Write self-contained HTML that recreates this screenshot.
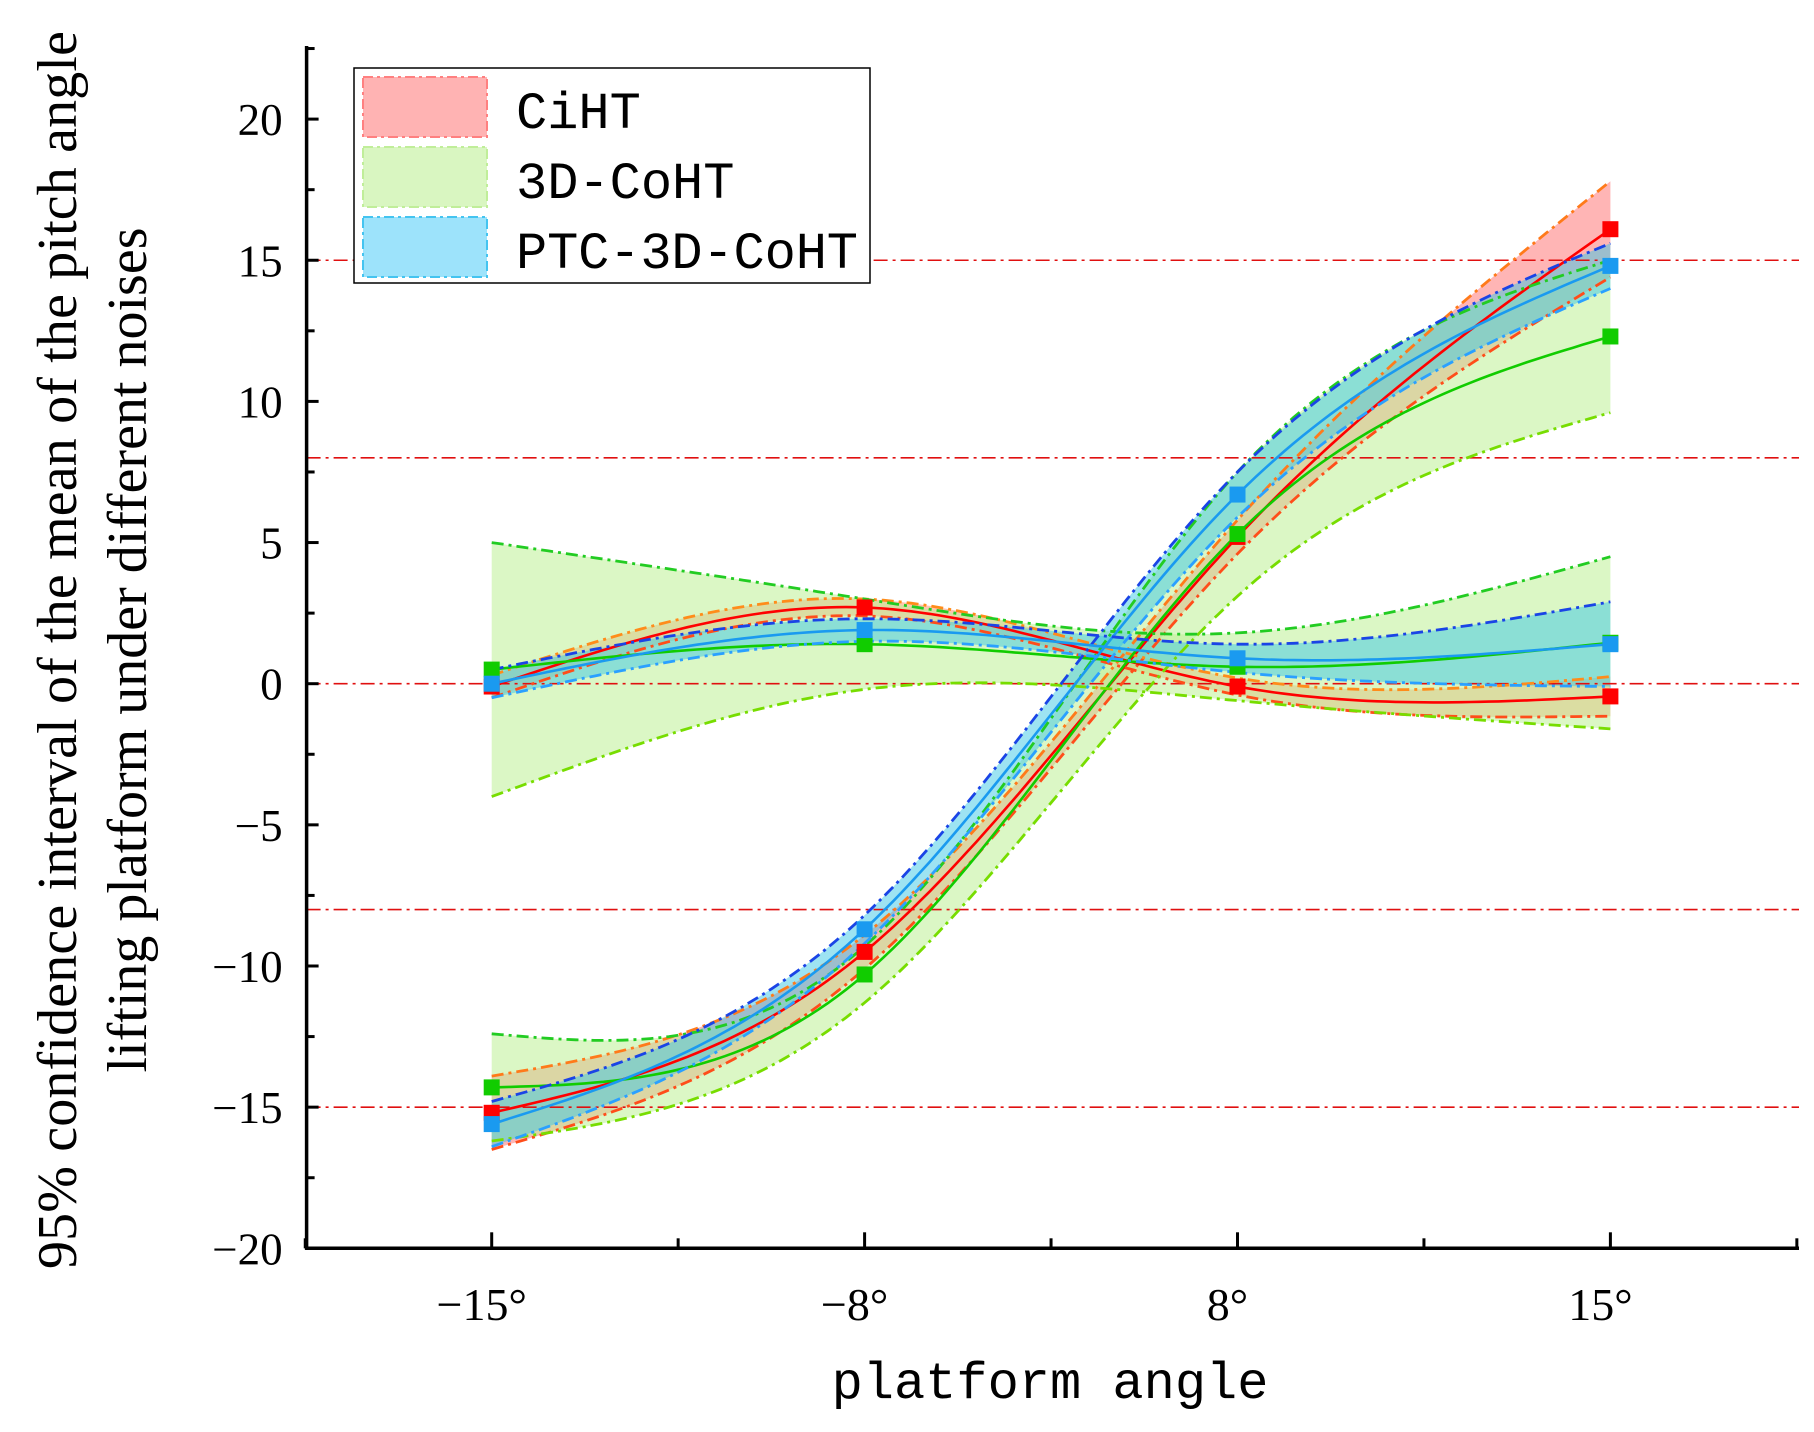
<!DOCTYPE html>
<html><head><meta charset="utf-8"><style>
body{margin:0;background:#fff}
svg{display:block}
text{font-family:"Liberation Serif",serif;fill:#000}
</style></head><body>
<svg id="chart" width="1814" height="1432" viewBox="0 0 1814 1432" xmlns="http://www.w3.org/2000/svg">
<g id="fills"></g><g id="lines"></g><g id="marks"></g><g id="axes"></g>
</svg>
<script>
const categories = ["\u221215°","\u22128°","8°","15°"];
const yTicks = [-20,-15,-10,-5,0,5,10,15,20];
const refLines = [15,8,0,-8,-15];
// rising curves
const ciUpMean = [-15.2,-9.5,5.2,16.1];
const ciUpHalf = [1.3,0.6,0.6,1.7];
const coUpMean = [-14.3,-10.3,5.3,12.3];
const coUpHalf = [1.9,1.0,2.2,2.7];
const ptUpMean = [-15.6,-8.7,6.7,14.8];
const ptUpHalf = [0.8,0.5,0.8,0.8];
// flat curves
const ciFlatMean = [-0.1,2.7,-0.1,-0.45];
const ciFlatHalf = [0.4,0.3,0.3,0.7];
const coFlatMean = [0.5,1.4,0.6,1.45];
const coFlatHalf = [4.5,1.6,1.2,3.05];
const ptFlatMean = [0.0,1.9,0.9,1.4];
const ptFlatHalf = [0.5,0.4,0.5,1.5];

const NS="http://www.w3.org/2000/svg";
const X0=491.7, DX=372.9, Y0=683.7, DY=28.23;
const xs=i=>X0+DX*i, ys=v=>Y0-v*DY;
const AX=306.6, AY=1248.3, AR=1799, AT=46;

function spline(vals){
  const n=vals.length, a=vals.slice(), c=new Array(n).fill(0);
  const al=[],l=[1],mu=[0],z=[0];
  for(let i=1;i<n-1;i++) al[i]=3*(a[i+1]-2*a[i]+a[i-1]);
  for(let i=1;i<n-1;i++){l[i]=4-mu[i-1];mu[i]=1/l[i];z[i]=(al[i]-z[i-1])/l[i];}
  const b=[],d=[];
  for(let j=n-2;j>=0;j--){c[j]=z[j]-mu[j]*c[j+1];b[j]=a[j+1]-a[j]-(c[j+1]+2*c[j])/3;d[j]=(c[j+1]-c[j])/3;}
  const pts=[];
  for(let j=0;j<n-1;j++) for(let k=0;k<(j==n-2?41:40);k++){const t=k/40;pts.push([xs(j+t),ys(a[j]+b[j]*t+c[j]*t*t+d[j]*t*t*t)]);}
  return pts;
}
function el(tag,attrs,parent){const e=document.createElementNS(NS,tag);for(const k in attrs)e.setAttribute(k,attrs[k]);parent.appendChild(e);return e;}
const gF=document.getElementById('fills'),gL=document.getElementById('lines'),gM=document.getElementById('marks'),gA=document.getElementById('axes');
const pstr=p=>p.map((q,i)=>(i?'L':'M')+q[0].toFixed(1)+' '+q[1].toFixed(1)).join(' ');

const series=[
 {n:'ciht-rise',m:ciUpMean,h:ciUpHalf,fill:'rgba(255,120,120,0.55)',up:'#ff7a1a',lo:'#ff4d1a',mc:'#ff0000'},
 {n:'ciht-flat',m:ciFlatMean,h:ciFlatHalf,fill:'rgba(255,140,100,0.5)',up:'#ff8c1a',lo:'#ff4d1a',mc:'#ff0000'},
 {n:'3dcoht-rise',m:coUpMean,h:coUpHalf,fill:'rgba(190,240,150,0.55)',up:'#22cc22',lo:'#77dd00',mc:'#11cc00'},
 {n:'3dcoht-flat',m:coFlatMean,h:coFlatHalf,fill:'rgba(190,240,150,0.55)',up:'#22cc22',lo:'#77dd00',mc:'#11cc00'},
 {n:'ptc-rise',m:ptUpMean,h:ptUpHalf,fill:'rgba(60,200,230,0.5)',up:'#1a44e6',lo:'#2aa0ff',mc:'#1a9af0'},
 {n:'ptc-flat',m:ptFlatMean,h:ptFlatHalf,fill:'rgba(60,200,230,0.5)',up:'#1a44e6',lo:'#2aa0ff',mc:'#1a9af0'}
];
refLines.forEach(v=>{
 const r=el('line',{x1:AX,x2:AR,y1:ys(v),y2:ys(v),stroke:'#e01010','stroke-width':1.6,'stroke-dasharray':'14 5 3 5'},gL);
 
 
});
series.forEach(s=>{
 const up=spline(s.m.map((v,i)=>v+s.h[i])), lo=spline(s.m.map((v,i)=>v-s.h[i])), mid=spline(s.m);
 const f=el('path',{d:pstr(up)+' '+pstr(lo.slice().reverse()).replace('M','L')+' Z',fill:s.fill,stroke:'none'},gF);
 
 
 const u=el('path',{d:pstr(up),fill:'none',stroke:s.up,'stroke-width':2.8,'stroke-dasharray':'12 5 3 5'},gL);
 
 
 const l=el('path',{d:pstr(lo),fill:'none',stroke:s.lo,'stroke-width':2.8,'stroke-dasharray':'12 5 3 5'},gL);
 
 
 const m=el('path',{d:pstr(mid),fill:'none',stroke:s.mc,'stroke-width':2.6},gL);
 
 
 s.m.forEach((v,i)=>{
  const r=el('rect',{x:xs(i)-8,y:ys(v)-8,width:16,height:16,fill:s.mc},gM);
  
  
 });
});
el('line',{x1:AX,x2:AX,y1:AT,y2:AY+1.5,stroke:'#000','stroke-width':3.5},gA);
el('line',{x1:AX-1.5,x2:AR,y1:AY,y2:AY,stroke:'#000','stroke-width':3.5},gA);
for(let v=-20;v<=22.5;v+=2.5){
 const major=v%5===0;
 el('line',{x1:AX,x2:AX+(major?12:8),y1:ys(v),y2:ys(v),stroke:'#000','stroke-width':3},gA);
}
yTicks.forEach(v=>{
 const t=el('text',{x:AX-24,y:ys(v)+16,'text-anchor':'end','font-size':45},gA);
 t.textContent=v<0?'\u2212'+(-v):String(v);
 
 
});
for(let i=-0.5;i<=3.51;i+=0.5){
 const major=Number.isInteger(i);
 el('line',{x1:xs(i),x2:xs(i),y1:AY,y2:AY-(major?16:10),stroke:'#000','stroke-width':3},gA);
}
categories.forEach((c,i)=>{
 const t=el('text',{x:xs(i)-10,y:1320,'text-anchor':'middle','font-size':46},gA);
 t.textContent=c;
 
 
});
</script>
<svg style="position:absolute;left:0;top:0" width="1814" height="1432">
<text x="1050" y="1398" text-anchor="middle" font-size="52" style="font-family:'Liberation Mono',monospace">platform angle</text>
<g transform="translate(76,650) rotate(-90)">
<text x="0" y="0" text-anchor="middle" font-size="56" textLength="1238">95% confidence interval of the mean of the pitch angle</text>
<text x="0" y="70" text-anchor="middle" font-size="56">lifting platform under different noises</text>
</g>
<g>
<rect x="354" y="68" width="516" height="215" fill="#fff" stroke="#000" stroke-width="1.5"/>
<rect x="363" y="77" width="124" height="60" fill="#ffb3b3" stroke="#ff8080" stroke-width="2" stroke-dasharray="10 4 3 4"/>
<rect x="363" y="147" width="124" height="60" fill="#d9f6c1" stroke="#c0ee99" stroke-width="2" stroke-dasharray="10 4 3 4"/>
<rect x="363" y="217" width="124" height="60" fill="#9de3fb" stroke="#44c4f0" stroke-width="2" stroke-dasharray="10 4 3 4"/>
<text x="516" y="128" font-size="52" style="font-family:'Liberation Mono',monospace">CiHT</text>
<text x="516" y="198" font-size="52" style="font-family:'Liberation Mono',monospace">3D-CoHT</text>
<text x="516" y="268" font-size="52" style="font-family:'Liberation Mono',monospace" textLength="342">PTC-3D-CoHT</text>
</g>
</svg>
</body></html>
